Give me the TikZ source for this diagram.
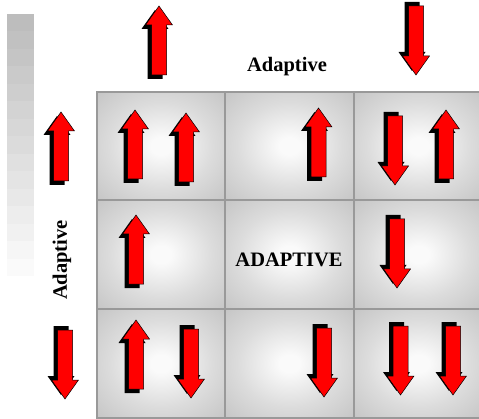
\documentclass[tikz,border=0pt]{standalone}
\usepackage{fontspec}
\setmainfont{Liberation Serif}

\definecolor{cellcenter}{HTML}{FAFAFA}
\definecolor{cellinner}{HTML}{DCDCDC}
\definecolor{celledge}{HTML}{B0B0B0}
\definecolor{cellcorner}{HTML}{A2A2A2}
\definecolor{gridline}{HTML}{999999}

\pgfdeclareradialshading{cellglow}{\pgfpoint{0bp}{0bp}}{%
  color(0bp)=(cellcenter); color(4bp)=(cellcenter); color(20bp)=(cellinner);
  color(50bp)=(celledge); color(72bp)=(cellcorner)}

\tikzset{
  blockarrow/.pic={
    % Shadow
    \fill[black, shift={(-4,-4)}] (-7.5,0) -- (-7.5,50) -- (-13.5,50) -- (0,69)
      -- (13.5,50) -- (7.5,50) -- (7.5,0) -- cycle;
    % Arrow body
    \filldraw[fill=red, draw=black, line width=0.5] (-7.5,0) -- (-7.5,50) -- (-13.5,50)
      -- (0,69) -- (13.5,50) -- (7.5,50) -- (7.5,0) -- cycle;
  },
  labeltext/.style={font=\fontsize{20.5}{24}\selectfont\bfseries, inner sep=0pt}
}

\begin{document}
\begin{tikzpicture}[x=1pt, y=1pt]
        % --- SETTINGS ---
        \def\bandH{17.47}
        \useasboundingbox (0,0) rectangle (479,418);

        % =========================================
        % GREY SCALE BAR (Left)
        % =========================================
        \foreach \i [evaluate=\i as \tone using 26-\i*24/14,
                     evaluate=\i as \bandY using 404-\i*\bandH] in {0,...,14} {
            \fill[black!\tone] (7,\bandY) rectangle (34,\bandY-\bandH-0.2);
        }

        % =========================================
        % GRID OF CELLS
        % =========================================
        \foreach \cx/\cw in {97/128, 225/129, 354/129} {
            \foreach \cy/\ch in {0/109, 109/109, 218/108} {
                \shadedraw[shading=cellglow, draw=gridline, line width=1.2]
                    (\cx,\cy) rectangle ++(\cw,\ch);
            }
        }

        % Labels
        \node[labeltext] (topLabel) at (287,351) {Adaptive};
        \node[labeltext, rotate=90] (sideLabel) at (62,158) {Adaptive};
        \node[labeltext] (centerLabel) at (289,158) {ADAPTIVE};

        % =========================================
        % ARROWS
        % =========================================
        % Up arrows (tail position)
        \foreach \ax/\ay in {159/343, 61/237, 135/239, 186/236,
                             318.5/241, 446/239, 136/134, 136/29} {
            \pic at (\ax,\ay) {blockarrow};
        }
        % Down arrows (tail position, mirrored)
        \foreach \ax/\ay in {416/412, 65/88, 395/302, 397/199,
                             191/89, 324/90, 400.5/92, 453/92} {
            \pic[yscale=-1] at (\ax,\ay) {blockarrow};
        }

    \end{tikzpicture}
\end{document}
